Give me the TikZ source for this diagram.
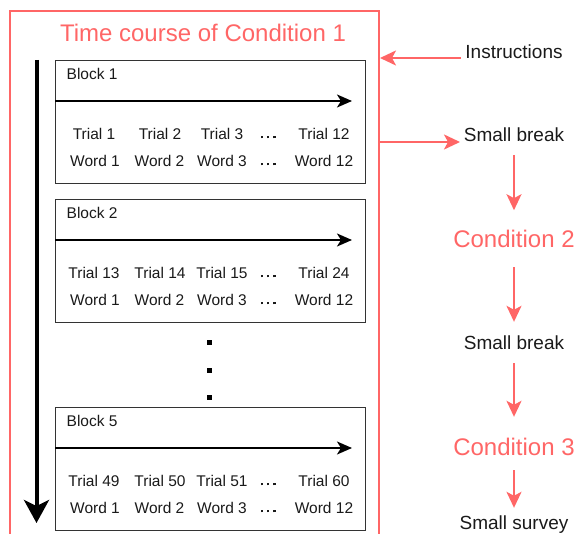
\documentclass[tikz,border=0pt]{standalone}
\usepackage{fontspec}
\setmainfont{Liberation Sans}
\usetikzlibrary{arrows.meta}
\definecolor{rd}{HTML}{FF6666}
\definecolor{bx}{HTML}{333333}
\definecolor{tx}{HTML}{1A1A1A}
\newcommand{\sqdots}{\raisebox{1.3pt}{\rule{2.6pt}{2.6pt}\hspace{3.6pt}\rule{2.6pt}{2.6pt}\hspace{3.6pt}\rule{2.6pt}{2.6pt}}}
\begin{document}
\begin{tikzpicture}[x=1pt,y=-1pt,
  blockbox/.style={draw=bx, line width=1.3pt, minimum width=310pt, minimum height=123pt, inner sep=0pt},
  btxt/.style={font=\fontsize{15.5}{18}\selectfont, text=tx, inner sep=0pt, text height=11.2pt, text depth=0pt},
  rtxt/.style={font=\fontsize{19}{22}\selectfont, text=tx, inner sep=0pt, text height=13.6pt, text depth=0pt},
  ctxt/.style={font=\fontsize{24}{28}\selectfont, text=rd, inner sep=0pt, text height=17.2pt, text depth=0pt},
  barr/.style={draw=black, line width=1.8pt, -{Stealth[length=15pt,width=13pt,inset=4pt]}},
  rarr/.style={draw=rd, line width=2pt, -{Stealth[length=16pt,width=15pt,inset=4pt]}},
  bigarr/.style={draw=black, line width=4pt, -{Stealth[length=23pt,width=25pt,inset=6pt]}},
  dotsq/.style={fill=black, minimum size=5pt, inner sep=0pt}
]
\useasboundingbox (0,0) rectangle (579,534);
% frame
\draw[rd, line width=2pt] (10,545) -- (10,11) -- (379,11) -- (379,545);
\node[ctxt] (title) at (203,33) {Time course of Condition 1};
% time arrow
\coordinate (ts) at (36.5,60);
\coordinate (te) at (36.5,523);
\draw[bigarr] (ts) -- (te);
% blocks
\foreach \bn/\ty/\pa/\pb/\pc/\pd in {1/60/1/2/3/12, 2/199/13/14/15/24, 5/407/49/50/51/60}{
  \node[blockbox, anchor=north west] (blk\bn) at (55,\ty) {};
  \node[btxt, anchor=west] (lbl\bn) at (66.5,\ty+14) {Block \bn};
  \coordinate (as\bn) at (55,\ty+41);
  \coordinate (ae\bn) at (352,\ty+41);
  \draw[barr] (as\bn) -- (ae\bn);
  \node[btxt] (ta\bn) at (94,\ty+74) {Trial \pa};
  \node[btxt] (tb\bn) at (160,\ty+74) {Trial \pb};
  \node[btxt] (tc\bn) at (222,\ty+74) {Trial \pc};
  \node[btxt] (td\bn) at (268,\ty+74) {\sqdots};
  \node[btxt] (te\bn) at (324,\ty+74) {Trial \pd};
  \node[btxt] (wa\bn) at (95,\ty+101) {Word 1};
  \node[btxt] (wb\bn) at (159.5,\ty+101) {Word 2};
  \node[btxt] (wc\bn) at (222,\ty+101) {Word 3};
  \node[btxt] (wd\bn) at (268,\ty+101) {\sqdots};
  \node[btxt] (we\bn) at (324,\ty+101) {Word 12};
}
% vertical dots
\node[dotsq] (v1) at (209,343) {};
\node[dotsq] (v2) at (209,371) {};
\node[dotsq] (v3) at (209,398) {};
% right column
\node[rtxt] (instr) at (514,52) {Instructions};
\node[rtxt] (sb1) at (514,135) {Small break};
\node[ctxt] (cond2) at (514,239) {Condition 2};
\node[rtxt] (sb2) at (514,342.5) {Small break};
\node[ctxt] (cond3) at (514,446.5) {Condition 3};
\node[rtxt] (ss) at (514,523) {Small survey};
\coordinate (i0) at (461,58);
\coordinate (f1) at (380,58);
\draw[rarr] (i0) -- (f1);
\coordinate (f2) at (379,142);
\coordinate (b0) at (460,142);
\draw[rarr] (f2) -- (b0);
\draw[rarr, shorten <=13pt, shorten >=20pt] (sb1) -- (cond2);
\draw[rarr, shorten <=19.4pt, shorten >=13.7pt] (cond2) -- (sb2);
\draw[rarr, shorten <=13.7pt, shorten >=20.9pt] (sb2) -- (cond3);
\draw[rarr, shorten <=15pt, shorten >=8.2pt] (cond3) -- (ss);
\end{tikzpicture}
\end{document}
